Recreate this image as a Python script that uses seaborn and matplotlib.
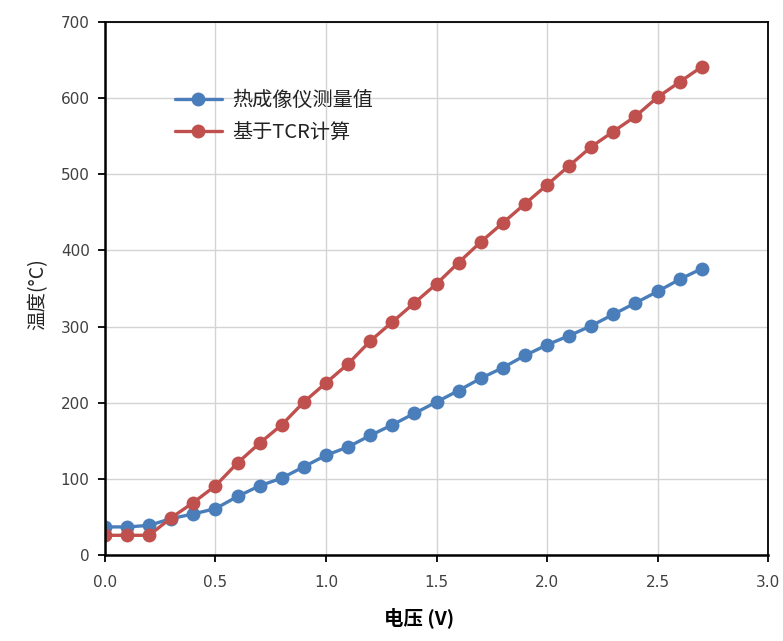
import numpy as np
import pandas as pd
import matplotlib
matplotlib.use('Agg')
import matplotlib.pyplot as plt
import seaborn as sns

# data
voltage = [0.0, 0.1, 0.2, 0.3, 0.4, 0.5, 0.6, 0.7, 0.8, 0.9, 1.0, 1.1, 1.2, 1.3,
           1.4, 1.5, 1.6, 1.7, 1.8, 1.9, 2.0, 2.1, 2.2, 2.3, 2.4, 2.5, 2.6, 2.7]
temp_ir = [37, 37, 39, 48, 54, 61, 77, 91, 101, 116, 131, 142, 157, 171,
           186, 201, 216, 232, 246, 262, 276, 288, 301, 316, 331, 346, 362, 376]
temp_tcr = [26, 26, 26, 49, 69, 91, 121, 147, 171, 201, 226, 251, 281, 306,
            331, 356, 384, 411, 436, 461, 486, 511, 536, 556, 576, 601, 621, 641]
series_names = ['热成像仪测量值', '基于TCR计算']
colors = ['#4a7ebb', '#c0504d']

sns.set_theme(style='white')
plt.rcParams['font.family'] = ['Noto Sans CJK SC', 'DejaVu Sans']

fig = plt.figure(figsize=(7.83, 6.41), dpi=100)
ax = fig.add_axes([0.134, 0.134, 0.847, 0.832])

df = pd.DataFrame({
    'V': voltage * 2,
    'T': temp_ir + temp_tcr,
    'series': [series_names[0]] * len(voltage) + [series_names[1]] * len(voltage),
})

for name, c in zip(series_names, colors):
    sub = df[df['series'] == name]
    sns.lineplot(data=sub, x='V', y='T', ax=ax, color=c, linewidth=2.4,
                 marker='o', markersize=10, markeredgewidth=0, label=name)

ax.set_xlim(0, 3.0)
ax.set_ylim(0, 700)
xt = np.arange(0, 3.01, 0.5)
ax.set_xticks(xt)
ax.set_xticklabels([f'{v:.1f}' for v in xt], family='DejaVu Sans')
ax.set_yticks(np.arange(0, 701, 100))
ax.set_yticklabels([str(v) for v in range(0, 701, 100)], family='DejaVu Sans')
ax.grid(True, color='#d4d4d4', linewidth=1.0)
ax.set_axisbelow(True)

for s in ax.spines.values():
    s.set_color('black')
    s.set_linewidth(1.3)
ax.spines['left'].set_linewidth(1.8)
ax.spines['bottom'].set_linewidth(1.8)

ax.tick_params(axis='both', direction='out', length=5, width=1.3, color='black',
               labelsize=11, labelcolor='#404040', bottom=True, left=True)
ax.tick_params(axis='x', pad=9)
ax.tick_params(axis='y', pad=6)

ax.set_xlabel('电压 (V)', fontsize=14, fontweight='bold', color='black')
ax.set_ylabel('温度(°C)', fontsize=14, color='#222222')
ax.xaxis.set_label_coords(0.474, -0.098)
ax.yaxis.set_label_coords(-0.086, 0.49)

leg = ax.legend(loc='upper left', bbox_to_anchor=(0.078, 0.906), frameon=False,
                fontsize=14.5, handlelength=2.35, handletextpad=0.5, labelspacing=0.55)
for t in leg.get_texts():
    t.set_color('#222222')

fig.savefig('out.png', dpi=100)
